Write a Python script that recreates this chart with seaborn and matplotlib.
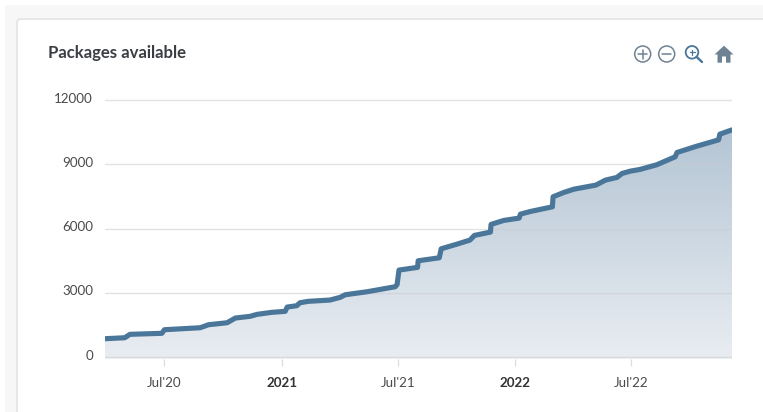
#!/usr/bin/python

import numpy as np
import pandas as pd
from matplotlib import pyplot as plt
from matplotlib.colors import LinearSegmentedColormap
from matplotlib.patches import Circle, FancyBboxPatch, Polygon, Rectangle
from matplotlib.transforms import ScaledTranslation
import seaborn as sns

dates = ["2020-03-30", "2020-04-30", "2020-05-08", "2020-06-27", "2020-07-01",
         "2020-08-26", "2020-09-08", "2020-10-07", "2020-10-20", "2020-11-12",
         "2020-11-23", "2020-12-16", "2021-01-06", "2021-01-09", "2021-01-24",
         "2021-01-29", "2021-02-11", "2021-03-17", "2021-04-02", "2021-04-10",
         "2021-05-14", "2021-06-27", "2021-06-30", "2021-07-03", "2021-08-01",
         "2021-08-02", "2021-09-04", "2021-09-07", "2021-10-02", "2021-10-22",
         "2021-10-29", "2021-11-23", "2021-11-24", "2021-12-14", "2022-01-07",
         "2022-01-09", "2022-01-25", "2022-02-28", "2022-03-01", "2022-03-18",
         "2022-04-03", "2022-05-07", "2022-05-22", "2022-06-09", "2022-06-17",
         "2022-06-30", "2022-07-15", "2022-08-10", "2022-09-08", "2022-09-11",
         "2022-10-12", "2022-11-15", "2022-11-17", "2022-12-06"]
packages = [854, 900, 1059, 1106, 1274, 1367, 1507, 1600, 1820, 1899,
            1992, 2086, 2132, 2333, 2394, 2534, 2599, 2660, 2786, 2907,
            3047, 3280, 3383, 4059, 4185, 4493, 4633, 5053, 5273, 5459,
            5678, 5832, 6192, 6378, 6486, 6672, 6798, 7013, 7480, 7685,
            7839, 8026, 8259, 8385, 8571, 8679, 8758, 8973, 9346, 9551,
            9845, 10139, 10405, 10606]

y_ticks = [0, 3000, 6000, 9000, 12000]
x_tick_dates = ["2020-07-01", "2021-01-01", "2021-07-01", "2022-01-01", "2022-07-01"]
x_tick_labels = ["Jul'20", "2021", "Jul'21", "2022", "Jul'22"]
bold_labels = ["2021", "2022"]

W, H = 763, 412
LINE = "#4a7699"
ICON = "#6f8294"


def draw_page(bg):
    # page strip, card and toolbar icons, all in pixel coordinates
    bg.set_xlim(0, W)
    bg.set_ylim(H, 0)
    bg.axis("off")
    bg.add_patch(Rectangle((5, 5), W - 5, H - 5, fc="#f7f7f7", ec="none"))
    bg.add_patch(FancyBboxPatch((17, 19), W + 20, H + 20, boxstyle="round,pad=0,rounding_size=4",
                                fc="white", ec="#e4e4e4", lw=1.2))
    bg.text(48, 52.5, "Packages available", fontsize=12.1, fontweight="bold",
            color="#3b3f44", va="center", ha="left")

    for cx in [642.7, 666.7]:
        bg.add_patch(Circle((cx, 54), 8, fc="none", ec=ICON, lw=1.1))
        bg.plot([cx - 4.5, cx + 4.5], [54, 54], color=ICON, lw=1.1)
    bg.plot([642.7, 642.7], [49.5, 58.5], color=ICON, lw=1.1)

    bg.add_patch(Circle((692, 52.3), 6.3, fc="none", ec=LINE, lw=1.3))
    bg.plot([696.5, 702], [56.8, 62], color=LINE, lw=1.7)
    bg.plot([689.5, 694.5], [52.3, 52.3], color=LINE, lw=0.9)
    bg.plot([692, 692], [49.8, 54.8], color=LINE, lw=0.9)

    bg.add_patch(Polygon([(724, 45.7), (733.5, 54.5), (730.5, 54.5), (730.5, 62.7),
                          (726, 62.7), (726, 56.5), (722, 56.5), (722, 62.7),
                          (717.5, 62.7), (717.5, 54.5), (714.5, 54.5)],
                         closed=True, fc=ICON, ec="none"))


def plot(outf):
    sns.set_style("white")
    plt.rcParams["font.family"] = ["Lato", "DejaVu Sans"]

    df = pd.DataFrame({"Date": pd.to_datetime(dates), "Packages": packages})

    fig = plt.figure(figsize=(W / 100, H / 100), dpi=100)
    bg = fig.add_axes([0, 0, 1, 1], zorder=0)
    draw_page(bg)

    left, right, top, bottom = 105, 732, 99, 358.7
    ax = fig.add_axes([left / W, 1 - bottom / H, (right - left) / W, (bottom - top) / H], zorder=1)
    ax.patch.set_alpha(0)

    sns.lineplot(data=df, x="Date", y="Packages", estimator=None, color=LINE,
                 linewidth=3.7, ax=ax, zorder=4, solid_joinstyle="round")

    ax.set_xlim(pd.Timestamp("2020-03-30"), pd.Timestamp("2022-12-06"))
    ax.set_ylim(-79, 12047)
    x0, x1 = ax.get_xlim()

    # vertical gradient under the line, clipped to the area
    area = ax.fill_between(df["Date"], packages, -79, facecolor="none", edgecolor="none")
    cmap = LinearSegmentedColormap.from_list("area", ["#e9edf2", "#b4c5d4"])
    im = ax.imshow(np.linspace(1, 0, 256).reshape(-1, 1), cmap=cmap, aspect="auto",
                   extent=[x0, x1, -79, 10606], zorder=1, vmin=0, vmax=1)
    im.set_clip_path(area.get_paths()[0], transform=ax.transData)
    ax.set_xlim(x0, x1)
    ax.set_ylim(-79, 12047)

    ax.set_yticks(y_ticks)
    ax.set_yticklabels([str(v) for v in y_ticks])
    ax.set_xticks(pd.to_datetime(x_tick_dates))
    ax.set_xticklabels(x_tick_labels)
    ax.set_xlabel("")
    ax.set_ylabel("")

    ax.grid(axis="y", color="#c9ccd1", lw=1, alpha=0.55, zorder=2)
    ax.grid(axis="x", visible=False)
    ax.set_axisbelow(False)
    for gl in ax.get_ygridlines():
        gl.set_zorder(2)
    sns.despine(ax=ax, left=True, bottom=True, top=True, right=True)

    ax.tick_params(axis="y", length=0, pad=8.6, labelsize=9.6, labelcolor="#4a4a4a")
    ax.tick_params(axis="x", length=5, width=0.9, color="#dddddd", pad=8,
                   labelsize=9.6, labelcolor="#4a4a4a", bottom=True)
    shift = ScaledTranslation(0, 1.8 / 72, fig.dpi_scale_trans)
    for lab in ax.get_yticklabels():
        lab.set_transform(lab.get_transform() + shift)
    for lab in ax.get_xticklabels():
        if lab.get_text() in bold_labels:
            lab.set_fontweight("bold")
            lab.set_color("#333333")

    plt.savefig(outf, dpi=100)


if __name__ == "__main__":
    plot("out.png")
